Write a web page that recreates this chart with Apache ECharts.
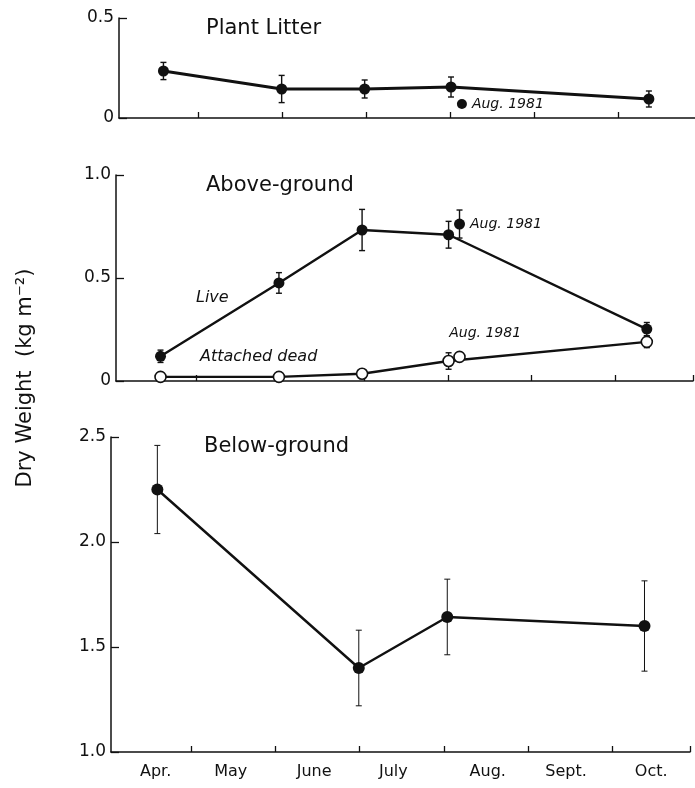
<!DOCTYPE html>
<html>
<head>
<meta charset="utf-8">
<script src="https://cdn.jsdelivr.net/npm/echarts@6/dist/echarts.min.js"></script>
<style>
  html, body { margin: 0; padding: 0; background: #fff; }
  #chart { width: 695px; height: 788px; }
</style>
</head>
<body>
<div id="chart"></div>
<script>
// x is counted in months from 1 April (0 = Apr 1, 1 = May 1, ...)
const monthNames = ['Apr.', 'May', 'June', 'July', 'Aug.', 'Sept.', 'Oct.']
const monthLabelAt = [0.58, 1.47, 2.46, 3.4, 4.52, 5.45, 6.46]
const monthTicks = [1, 2, 3, 4, 5, 6]
const sampleMonths = [0.58, 1.99, 2.98, 4.01, 6.37]
const belowMonths = [0.6, 2.99, 4.04, 6.38]
const aug1981Month = 4.14

// plant litter
const litter = [0.235, 0.145, 0.145, 0.155, 0.095]
const litterErr = [0.043, 0.068, 0.045, 0.05, 0.04]
const litterAug81 = 0.07

// above-ground live / attached dead
const live = [0.12, 0.476, 0.733, 0.71, 0.252]
const liveErr = [0.03, 0.05, 0.1, 0.065, 0.032]
const liveAug81 = 0.762
const liveAug81Err = 0.068
const dead = [0.02, 0.02, 0.035, 0.097, 0.19]
const deadErr = [0.01, 0.01, 0.02, 0.04, 0.028]
const deadAug81 = 0.117

// below-ground
const below = [2.25, 1.40, 1.643, 1.60]
const belowErr = [0.21, 0.18, 0.18, 0.215]

const FONT = 'DejaVu Sans'
const INK = '#111'

const errBars = (xs, ys, errs) => xs.map((x, i) => [x, ys[i] - errs[i], ys[i] + errs[i]])

const errRender = (width, cap) => (params, api) => {
    const lo = api.coord([api.value(0), api.value(1)])
    const hi = api.coord([api.value(0), api.value(2)])
    const st = { stroke: INK, lineWidth: width }
    return {
        type: 'group',
        children: [
            { type: 'line', shape: { x1: lo[0], y1: lo[1], x2: hi[0], y2: hi[1] }, style: st },
            { type: 'line', shape: { x1: lo[0] - cap, y1: lo[1], x2: lo[0] + cap, y2: lo[1] }, style: st },
            { type: 'line', shape: { x1: hi[0] - cap, y1: hi[1], x2: hi[0] + cap, y2: hi[1] }, style: st }
        ]
    }
}

const errSeries = (idx, data, width, cap) => ({
    type: 'custom',
    xAxisIndex: idx,
    yAxisIndex: idx,
    renderItem: errRender(width, cap),
    encode: { x: 0, y: [1, 2] },
    data: data,
    z: 1
})

const filled = { color: INK, opacity: 1 }
const hollow = { color: '#fff', borderColor: INK, borderWidth: 1.6, opacity: 1 }

const xAxisFor = (idx, withLabels, endTick) => ({
    type: 'value',
    gridIndex: idx,
    min: 0.05,
    max: 6.92,
    axisLine: { show: true, lineStyle: { color: INK, width: 1.5 } },
    axisTick: {
        show: true, inside: true, length: 6,
        customValues: endTick ? monthTicks.concat([6.92]) : monthTicks,
        lineStyle: { color: INK, width: 1.3 }
    },
    axisLabel: withLabels ? {
        show: true,
        customValues: monthLabelAt,
        formatter: v => monthNames[monthLabelAt.indexOf(v)] || '',
        margin: 12,
        fontSize: 16,
        color: INK,
        fontFamily: FONT
    } : { show: false },
    splitLine: { show: false }
})

const yAxisFor = (idx, min, max, fmt) => ({
    type: 'value',
    gridIndex: idx,
    min: min,
    max: max,
    interval: 0.5,
    axisLine: { show: true, lineStyle: { color: INK, width: 1.5 } },
    axisTick: { show: true, inside: true, length: 8, lineStyle: { color: INK, width: 1.3 } },
    axisLabel: { formatter: fmt, margin: 5, fontSize: 17, color: INK, fontFamily: FONT },
    splitLine: { show: false }
})

const aug81Label = (pos) => ({
    show: true,
    formatter: 'Aug. 1981',
    position: pos,
    fontStyle: 'italic',
    fontSize: 14,
    color: INK,
    fontFamily: FONT
})

const chart = echarts.init(document.getElementById('chart'))

const option = {
    animation: false,
    backgroundColor: '#fff',
    textStyle: { fontFamily: FONT },
    grid: [
        { left: 119, top: 18, width: 576, height: 100, outerBoundsMode: 'none' },
        { left: 116, top: 175, width: 577, height: 206, outerBoundsMode: 'none' },
        { left: 111, top: 437, width: 579, height: 315, outerBoundsMode: 'none' }
    ],
    xAxis: [
        xAxisFor(0, false, false),
        xAxisFor(1, false, true),
        xAxisFor(2, true, true)
    ],
    yAxis: [
        yAxisFor(0, 0, 0.5, v => v === 0 ? '0' : v.toFixed(1)),
        yAxisFor(1, 0, 1.0, v => v === 0 ? '0' : v.toFixed(1)),
        yAxisFor(2, 1.0, 2.5, v => v.toFixed(1))
    ],
    series: [
        // plant litter
        errSeries(0, errBars(sampleMonths, litter, litterErr), 1.4, 3),
        {
            type: 'line', xAxisIndex: 0, yAxisIndex: 0, z: 2,
            data: sampleMonths.map((m, i) => [m, litter[i]]),
            symbol: 'circle', symbolSize: 11,
            itemStyle: filled,
            lineStyle: { color: INK, width: 2.8 }
        },
        {
            type: 'scatter', xAxisIndex: 0, yAxisIndex: 0, z: 3,
            data: [[aug1981Month, litterAug81]],
            symbol: 'circle', symbolSize: 10,
            itemStyle: filled,
            label: aug81Label('right')
        },

        // above-ground
        errSeries(1, errBars(sampleMonths, live, liveErr), 1.4, 3),
        errSeries(1, errBars([aug1981Month], [liveAug81], [liveAug81Err]), 1.4, 3),
        errSeries(1, errBars(sampleMonths, dead, deadErr), 1.4, 3),
        {
            type: 'line', xAxisIndex: 1, yAxisIndex: 1, z: 2,
            data: sampleMonths.map((m, i) => [m, live[i]]),
            symbol: 'circle', symbolSize: 11,
            itemStyle: filled,
            lineStyle: { color: INK, width: 2.4 }
        },
        {
            type: 'scatter', xAxisIndex: 1, yAxisIndex: 1, z: 3,
            data: [[aug1981Month, liveAug81]],
            symbol: 'circle', symbolSize: 11,
            itemStyle: filled,
            label: aug81Label('right')
        },
        {
            type: 'line', xAxisIndex: 1, yAxisIndex: 1, z: 2,
            data: sampleMonths.map((m, i) => [m, dead[i]]),
            symbol: 'circle', symbolSize: 11,
            itemStyle: hollow,
            lineStyle: { color: INK, width: 2.4 }
        },
        {
            type: 'scatter', xAxisIndex: 1, yAxisIndex: 1, z: 3,
            data: [[aug1981Month, deadAug81]],
            symbol: 'circle', symbolSize: 11,
            itemStyle: hollow,
            label: Object.assign(aug81Label([-4, -24]), { align: 'left' })
        },

        // below-ground
        errSeries(2, errBars(belowMonths, below, belowErr), 1, 3),
        {
            type: 'line', xAxisIndex: 2, yAxisIndex: 2, z: 2,
            data: belowMonths.map((m, i) => [m, below[i]]),
            symbol: 'circle', symbolSize: 12,
            itemStyle: filled,
            lineStyle: { color: INK, width: 2.4 }
        }
    ],
    graphic: [
        { type: 'text', left: 206, top: 18, style: { text: 'Plant Litter', fontSize: 21, fill: INK, fontFamily: FONT } },
        { type: 'text', left: 206, top: 175, style: { text: 'Above-ground', fontSize: 21, fill: INK, fontFamily: FONT } },
        { type: 'text', left: 204, top: 436, style: { text: 'Below-ground', fontSize: 21, fill: INK, fontFamily: FONT } },
        { type: 'text', left: 196, top: 290, style: { text: 'Live', fontSize: 16, fontStyle: 'italic', fill: INK, fontFamily: FONT } },
        { type: 'text', left: 200, top: 349, style: { text: 'Attached dead', fontSize: 16, fontStyle: 'italic', fill: INK, fontFamily: FONT } },
        {
            type: 'text', x: 26, y: 378, rotation: Math.PI / 2,
            style: { text: 'Dry Weight  (kg m⁻²)', fontSize: 21, fill: INK, fontFamily: FONT, align: 'center', verticalAlign: 'middle' }
        }
    ]
}

chart.setOption(option)
</script>
</body>
</html>
